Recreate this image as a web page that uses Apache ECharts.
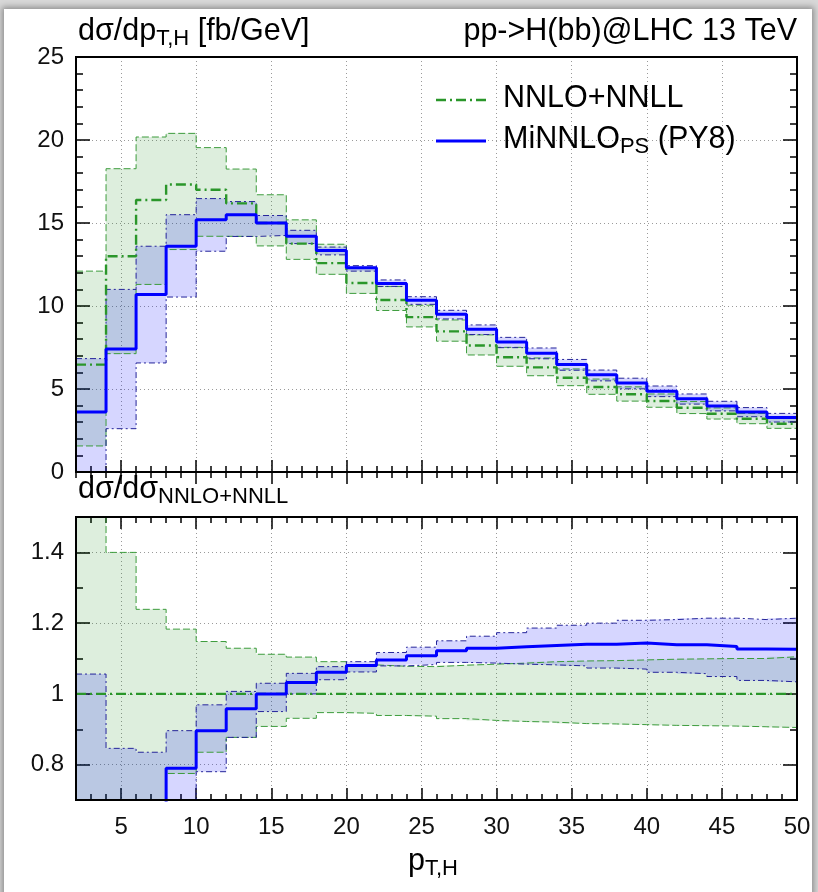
<!DOCTYPE html>
<html><head><meta charset="utf-8">
<script src="https://cdn.jsdelivr.net/npm/echarts@6/dist/echarts.min.js"></script>
<style>
html,body{margin:0;padding:0;background:#d8d8d8;overflow:hidden;width:818px;height:892px;}
#frame{position:absolute;left:4px;top:9px;width:808px;height:900px;background:#fff;box-shadow:0 0 6px 2px rgba(0,0,0,0.35);}
#chart{position:absolute;left:0;top:0;width:818px;height:892px;}
</style></head><body><div id="frame"></div><div id="chart"></div>
<script>
// ---- data (bins of 2 GeV from 2 to 50) ----
const binEdges = [2,4,6,8,10,12,14,16,18,20,22,24,26,28,30,32,34,36,38,40,42,44,46,48,50];
const xMajorTicks = [5,10,15,20,25,30,35,40,45,50];
const yTopTicks = [0,5,10,15,20,25];
const yRatioTicks = [0.8,1.0,1.2,1.4];

// top panel: d sigma / d pT [fb/GeV]
const nnloCentral = [6.47,13.0,16.39,17.32,17.0,16.18,15.0,13.76,12.58,11.39,10.36,9.33,8.47,7.62,6.91,6.3,5.68,5.12,4.68,4.28,3.87,3.51,3.21,2.91];
const nnloUpper   = [12.1,18.27,20.18,20.4,19.54,18.25,16.7,15.19,13.72,12.32,11.17,10.05,9.16,8.26,7.51,6.87,6.21,5.6,5.13,4.7,4.25,3.86,3.53,3.22];
const nnloLower   = [1.57,7.13,11.3,13.4,14.2,14.19,13.62,12.81,11.91,10.76,9.73,8.74,7.88,7.05,6.37,5.8,5.2,4.68,4.27,3.9,3.52,3.19,2.91,2.63];
const minnloCentral = [3.61,7.41,10.7,13.6,15.2,15.5,15.0,14.2,13.35,12.3,11.35,10.34,9.5,8.6,7.83,7.16,6.47,5.86,5.36,4.86,4.41,3.98,3.62,3.28];
const minnloUpper   = [6.83,11.0,13.6,15.5,16.47,16.29,15.45,14.56,13.55,12.43,11.57,10.56,9.74,8.86,8.11,7.47,6.78,6.14,5.65,5.18,4.7,4.26,3.88,3.53];
const minnloLower   = [0,2.61,6.57,10.54,13.3,14.19,14.25,13.76,13.08,12.1,11.18,10.1,9.22,8.28,7.49,6.82,6.13,5.49,5.01,4.54,4.09,3.68,3.33,3.01];

// bottom panel: ratio to NNLO+NNLL
const ratioNnloCentral = [1,1,1,1,1,1,1,1,1,1,1,1,1,1,1,1,1,1,1,1,1,1,1,1];
const ratioNnloUpper   = [1.87,1.40,1.239,1.183,1.148,1.129,1.112,1.104,1.091,1.082,1.078,1.077,1.081,1.084,1.087,1.091,1.093,1.094,1.096,1.098,1.099,1.1,1.1,1.105];
const ratioNnloLower   = [0.243,0.55,0.69,0.775,0.835,0.877,0.908,0.931,0.947,0.945,0.939,0.937,0.93,0.925,0.922,0.92,0.916,0.915,0.913,0.911,0.91,0.909,0.907,0.905];
const ratioMinnloCentral = [0.56,0.57,0.653,0.79,0.896,0.958,1.0,1.032,1.061,1.08,1.096,1.108,1.122,1.129,1.133,1.137,1.14,1.14,1.144,1.139,1.139,1.134,1.127,1.126];
const ratioMinnloUpper   = [1.056,0.846,0.835,0.896,0.969,1.007,1.03,1.058,1.077,1.091,1.117,1.132,1.15,1.163,1.173,1.186,1.194,1.2,1.208,1.21,1.214,1.214,1.21,1.214];
const ratioMinnloLower   = [0,0.2,0.4,0.61,0.78,0.877,0.95,1.0,1.04,1.062,1.079,1.083,1.089,1.087,1.084,1.082,1.079,1.073,1.07,1.061,1.057,1.049,1.038,1.034];

// ---- styling ----
const FONT = "'Liberation Sans', Arial, Helvetica, sans-serif";
const TXT = '#111';
const GREEN = '#2a962a';
const GREEN_EDGE = '#3c9c3c';
const BLUE = '#0000ff';
const NAVY = '#24249a';
const GREEN_FILL = 'rgba(0,128,0,0.135)';
const BLUE_FILL = 'rgba(0,0,255,0.16)';
const TICKFONT = 24;
const G = [
  {left:76, top:57, width:721, height:415},
  {left:76, top:517, width:721, height:283}
];
const YR = [[0,25],[0.7,1.5]];

function stepData(arr){ return binEdges.map((x,i)=>[x, arr[Math.min(i, arr.length-1)]]); }

const tickStyle = {color:'#000', width:1.5};
function xAxesFor(g, showLabels){
  const base = {gridIndex:g, type:'value', min:2, max:50, axisLine:{show:false}, splitLine:{show:false}};
  return [
    Object.assign({}, base, {position:'bottom', interval:1, axisTick:{show:true, inside:true, length:6, lineStyle:tickStyle}, axisLabel:{show:false}}),
    Object.assign({}, base, {position:'top', interval:1, axisTick:{show:true, inside:true, length:6, lineStyle:tickStyle}, axisLabel:{show:false}}),
    Object.assign({}, base, {position:'bottom',
      axisTick:{show:true, inside:true, length:12, lineStyle:tickStyle, customValues:xMajorTicks},
      axisLabel:{show:showLabels, customValues:xMajorTicks, fontSize:TICKFONT, fontFamily:FONT, color:TXT, margin:15},
      splitLine:{show:true, lineStyle:{color:'#9a9a9a', width:1, type:[1,3]}}}),
    Object.assign({}, base, {position:'top',
      axisTick:{show:true, inside:true, length:12, lineStyle:tickStyle, customValues:xMajorTicks},
      axisLabel:{show:false}})
  ];
}
function yAxesFor(g, minorInt, majors){
  const base = {gridIndex:g, type:'value', min:YR[g][0], max:YR[g][1], axisLine:{show:false}, splitLine:{show:false}};
  return [
    Object.assign({}, base, {position:'left', interval:minorInt, axisTick:{show:true, inside:true, length:7, lineStyle:tickStyle}, axisLabel:{show:false}}),
    Object.assign({}, base, {position:'right', interval:minorInt, axisTick:{show:true, inside:true, length:7, lineStyle:tickStyle}, axisLabel:{show:false}}),
    Object.assign({}, base, {position:'left',
      axisTick:{show:true, inside:true, length:14, lineStyle:tickStyle, customValues:majors},
      axisLabel:{show:true, customValues:majors, fontSize:TICKFONT, fontFamily:FONT, color:TXT, margin:12},
      splitLine:{show:true, lineStyle:{color:'#9a9a9a', width:1, type:[1,3]}}}),
    Object.assign({}, base, {position:'right',
      axisTick:{show:true, inside:true, length:14, lineStyle:tickStyle, customValues:majors},
      axisLabel:{show:false}})
  ];
}

function ln(xi, yi, arr, color, width, dash, z){
  return {type:'line', xAxisIndex:xi, yAxisIndex:yi, data:stepData(arr), step:'end',
    symbol:'none', showSymbol:false, silent:true, animation:false, z:z, clip:true,
    lineStyle:{color:color, width:width, type:dash}};
}
// filled band between lower and upper step curves, one polygon through the axis scales
function band(xi, yi, g, lo, hi, fill, z){
  return {type:'custom', xAxisIndex:xi, yAxisIndex:yi, z:z, silent:true, animation:false,
    data:[[binEdges[0], YR[g][0]]],
    renderItem:function(params, api){
      const cl = v => Math.max(YR[g][0], Math.min(YR[g][1], v));
      const top = [], bot = [];
      for (let i = 0; i < hi.length; i++){
        top.push(api.coord([binEdges[i], cl(hi[i])]), api.coord([binEdges[i+1], cl(hi[i])]));
        bot.push(api.coord([binEdges[i], cl(lo[i])]), api.coord([binEdges[i+1], cl(lo[i])]));
      }
      return {type:'polygon', shape:{points: top.concat(bot.reverse())}, style:{fill:fill, stroke:null}};
    }};
}
function panelSeries(g, gC, gU, gL, bC, bU, bL){
  const xi = g*4, yi = g*4;
  return [
    band(xi, yi, g, gL, gU, GREEN_FILL, 1),
    band(xi, yi, g, bL, bU, BLUE_FILL, 2),
    ln(xi, yi, gL, GREEN_EDGE, 1, [7,3], 3),
    ln(xi, yi, gU, GREEN_EDGE, 1, [7,3], 3),
    ln(xi, yi, bL, NAVY, 1, [6,3,2,3], 3),
    ln(xi, yi, bU, NAVY, 1, [6,3,2,3], 3),
    ln(xi, yi, gC, GREEN, 2.4, [10,4,2,4], 4),
    ln(xi, yi, bC, BLUE, 3, 'solid', 5)
  ];
}

const rich = {
  m:{fontSize:30.5, fontFamily:FONT, color:TXT, lineHeight:34, verticalAlign:'top'},
  s:{fontSize:22, fontFamily:FONT, color:TXT, lineHeight:24, padding:[14,0,0,0], verticalAlign:'bottom'}
};
function rtext(x, y, text, align){
  return {type:'text', x:x, y:y, z:100, style:{text:text, rich:rich, align:align||'left', verticalAlign:'top'}};
}

const chart = echarts.init(document.getElementById('chart'), null, {renderer:'canvas'});
chart.setOption({
  animation:false,
  backgroundColor:'transparent',
  grid: G.map(g=>Object.assign({show:false, outerBoundsMode:'none', containLabel:false}, g)),
  xAxis: [].concat(xAxesFor(0,false), xAxesFor(1,true)),
  yAxis: [].concat(yAxesFor(0,1,yTopTicks), yAxesFor(1,0.1,yRatioTicks)),
  series: [].concat(
    panelSeries(0, nnloCentral, nnloUpper, nnloLower, minnloCentral, minnloUpper, minnloLower),
    panelSeries(1, ratioNnloCentral, ratioNnloUpper, ratioNnloLower, ratioMinnloCentral, ratioMinnloUpper, ratioMinnloLower)
  ),
  graphic: [
    {type:'rect', z:100, shape:{x:G[0].left, y:G[0].top, width:G[0].width, height:G[0].height}, style:{fill:null, stroke:'#000', lineWidth:2}},
    {type:'rect', z:100, shape:{x:G[1].left, y:G[1].top, width:G[1].width, height:G[1].height}, style:{fill:null, stroke:'#000', lineWidth:2}},
    rtext(78, 16, '{m|dσ/dp}{s|T,H}{m| [fb/GeV]}'),
    rtext(797, 16, '{m|pp->H(bb)@LHC 13 TeV}', 'right'),
    rtext(78, 474, '{m|dσ/dσ}{s|NNLO+NNLL}'),
    rtext(433, 846, '{m|p}{s|T,H}', 'center'),
    {type:'line', z:100, shape:{x1:436, y1:100, x2:486, y2:100}, style:{stroke:GREEN, lineWidth:2.4, lineDash:[10,4,2,4]}},
    rtext(503, 83, '{m|NNLO+NNLL}'),
    {type:'line', z:100, shape:{x1:436, y1:141, x2:486, y2:141}, style:{stroke:BLUE, lineWidth:3}},
    rtext(503, 124, '{m|MiNNLO}{s|PS}{m| (PY8)}')
  ]
});
</script>
</body></html>
